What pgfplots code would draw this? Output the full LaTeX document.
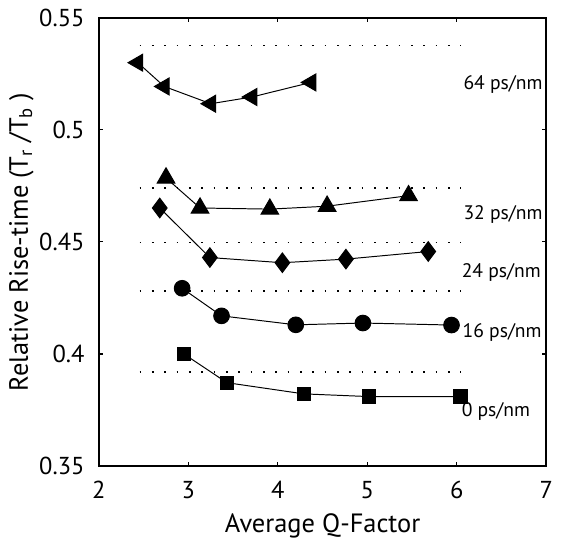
\documentclass[border=0pt]{standalone}
\usepackage{fontspec}
\setmainfont{PT Sans}
\usepackage{pgfplots}
\pgfplotsset{compat=1.18}
\begin{document}
\fontsize{12.5}{15}\selectfont
\begin{tikzpicture}
\begin{axis}[
 scale only axis, width=228.5pt, height=229pt,
 xmin=2, xmax=7, ymin=0.35, ymax=0.55,
 xtick={2,3,4,5,6,7}, ytick={0.35,0.4,0.45,0.5,0.55},
 yticklabels={0.35,0.4,0.45,0.5,0.55},
 tick align=inside, major tick length=2.2pt,
 axis line style={line width=1pt},
 every tick/.style={black, line width=0.6pt},
 /pgf/number format/assume math mode=true,
 ticklabel style={font=\fontsize{12.5}{15}\selectfont},
 xticklabel style={yshift=-3.5pt},
 yticklabel style={xshift=-3pt},
 xlabel={Average Q-Factor},
 ylabel={Relative Rise-time (T\textsubscript{r} /T\textsubscript{b} )},
 xlabel style={font=\fontsize{13.5}{16}\selectfont, at={(axis description cs:0.5,0)}, anchor=center, yshift=-30.5pt},
 ylabel style={font=\fontsize{13.5}{16}\selectfont, at={(axis description cs:-0.173,0.5)}, anchor=center},
 clip=false,
 every axis plot/.append style={black, line width=0.5pt},
]
\coordinate (sw) at (rel axis cs:0,0);
% dotted guide lines
\addplot[no marks, line width=0.8pt, dash pattern=on 0.8pt off 5.5pt] coordinates {(2.455,0.5375) (6.05,0.5375)};
\addplot[no marks, line width=0.8pt, dash pattern=on 0.8pt off 5.5pt] coordinates {(2.455,0.4739) (6.05,0.4739)};
\addplot[no marks, line width=0.8pt, dash pattern=on 0.8pt off 5.5pt] coordinates {(2.455,0.4498) (6.05,0.4498)};
\addplot[no marks, line width=0.8pt, dash pattern=on 0.8pt off 5.5pt] coordinates {(2.455,0.4280) (6.05,0.4280)};
\addplot[no marks, line width=0.8pt, dash pattern=on 0.8pt off 5.5pt] coordinates {(2.455,0.3919) (6.05,0.3919)};
% 64 ps/nm
\addplot[mark=triangle*, mark size=5pt, mark options={rotate=90, fill=black}] coordinates {
(2.435,0.5299) (2.73,0.5193) (3.25,0.5116) (3.71,0.5146) (4.37,0.5211)};
% 32 ps/nm
\addplot[mark=triangle*, mark size=5.2pt, mark options={fill=black}] coordinates {
(2.75,0.4785) (3.13,0.4651) (3.91,0.4646) (4.55,0.4659) (5.46,0.4706)};
% 24 ps/nm
\addplot[mark=diamond*, mark size=5pt, mark options={fill=black}] coordinates {
(2.68,0.4651) (3.24,0.4430) (4.05,0.4407) (4.76,0.4423) (5.68,0.4457)};
% 16 ps/nm
\addplot[mark=*, mark size=4pt, mark options={fill=black}] coordinates {
(2.93,0.4293) (3.37,0.4170) (4.20,0.4130) (4.95,0.4138) (5.94,0.4129)};
% 0 ps/nm
\addplot[mark=square*, mark size=3.4pt, mark options={fill=black}] coordinates {
(2.95,0.4000) (3.43,0.3872) (4.29,0.3822) (5.02,0.3810) (6.04,0.3810)};
\node[anchor=west, font=\fontsize{10}{12}\selectfont, inner sep=0pt] at (axis cs:6.07,0.5200) {64 ps/nm};
\node[anchor=west, font=\fontsize{10}{12}\selectfont, inner sep=0pt] at (axis cs:6.07,0.4623) {32 ps/nm};
\node[anchor=west, font=\fontsize{10}{12}\selectfont, inner sep=0pt] at (axis cs:6.05,0.4364) {24 ps/nm};
\node[anchor=west, font=\fontsize{10}{12}\selectfont, inner sep=0pt] at (axis cs:6.06,0.4095) {16 ps/nm};
\node[anchor=west, font=\fontsize{10}{12}\selectfont, inner sep=0pt] at (axis cs:6.05,0.3744) {0 ps/nm};
\end{axis}
\pgfresetboundingbox
\path ([shift={(-50.5pt,-39.5pt)}]sw) rectangle ([shift={(238pt,238pt)}]sw);
\end{tikzpicture}
\end{document}
